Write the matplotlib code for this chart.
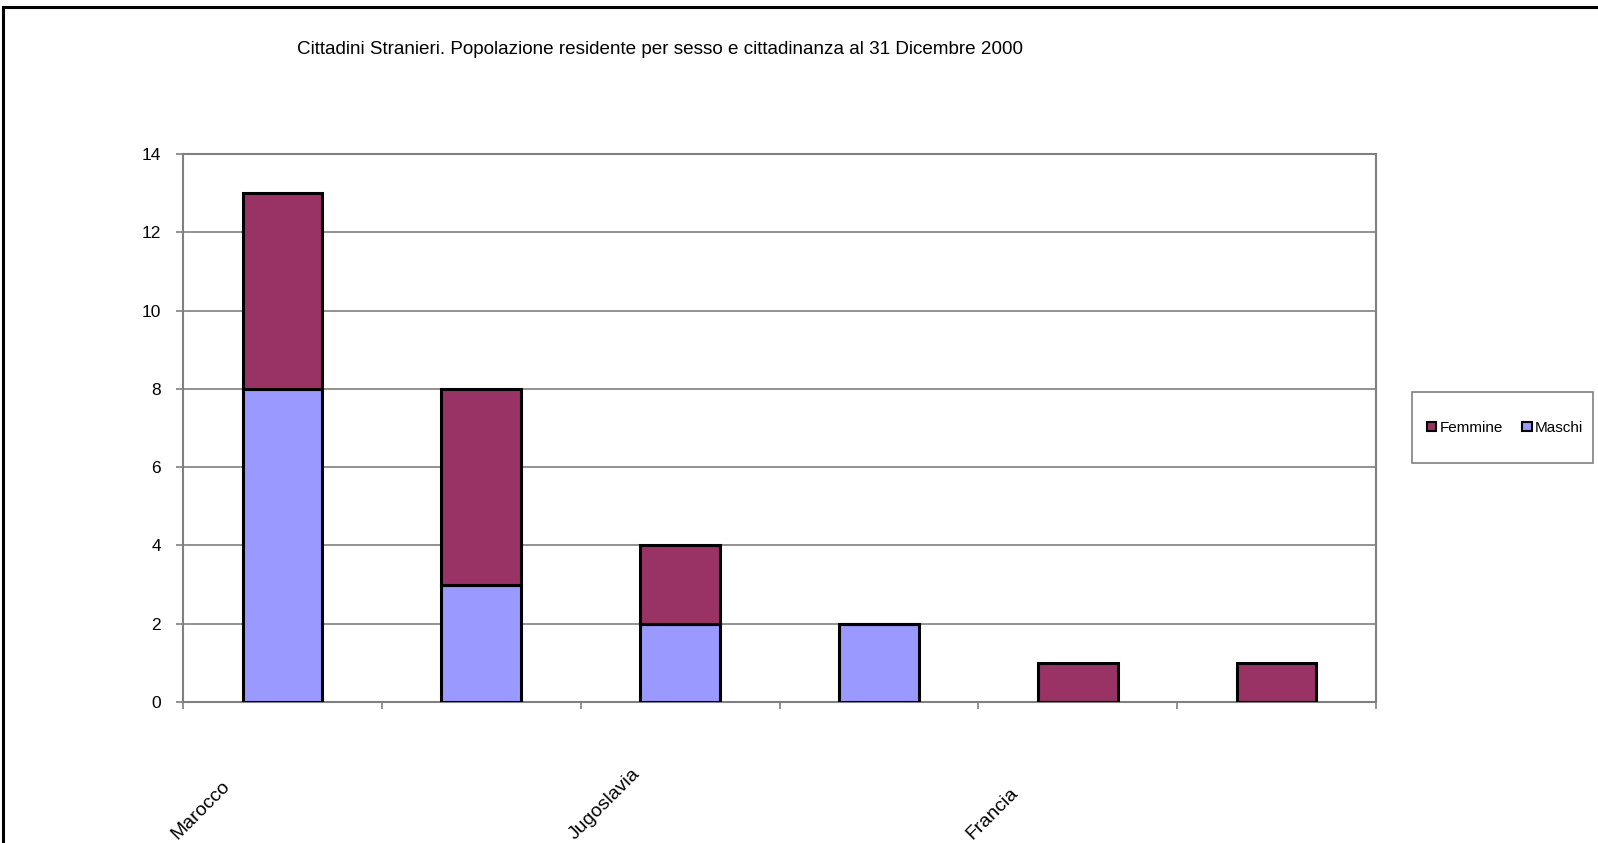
import matplotlib
matplotlib.use('Agg')
import matplotlib.pyplot as plt
import matplotlib.transforms as mtransforms
from matplotlib.patches import Rectangle, Patch
import numpy as np

plt.rcParams['font.family'] = ['Liberation Sans', 'DejaVu Sans']

# dati
paesi = ['Marocco', '', 'Jugoslavia', '', 'Francia', '']
maschi = [8, 3, 2, 2, 0, 0]
femmine = [5, 5, 2, 0, 1, 1]
titolo = 'Cittadini Stranieri. Popolazione residente per sesso e cittadinanza al 31 Dicembre 2000'

col_maschi = '#9999FF'
col_femmine = '#993366'
grigio = '#808080'

W, H = 1598, 843
fig = plt.figure(figsize=(W / 100, H / 100), dpi=100)
ax = fig.add_axes([183 / W, 1 - 702 / H, (1376 - 183) / W, (702 - 154) / H])

x = np.arange(len(paesi)) + 0.5
ax.bar(x, maschi, width=0.4, color=col_maschi, edgecolor='black', linewidth=2.2, zorder=3)
ax.bar(x, femmine, width=0.4, bottom=maschi, color=col_femmine, edgecolor='black', linewidth=2.2, zorder=3)

ax.set_xlim(0, len(paesi))
ax.set_ylim(0, 14)
ax.set_yticks(np.arange(0, 15, 2))
ax.set_xticks(np.arange(len(paesi) + 1))
ax.set_xticklabels([])
ax.yaxis.grid(True, color=grigio, linewidth=1.2, zorder=0)
for s in ax.spines.values():
    s.set_color(grigio)
    s.set_linewidth(1.5)
ax.tick_params(axis='both', color=grigio, length=5, width=1.2, labelsize=12.5)
ax.tick_params(axis='y', pad=11)

# etichette categorie: ruotate a 45 gradi, ancorate al bordo sinistro di ogni categoria
trans = mtransforms.blended_transform_factory(ax.transData, fig.transFigure)
for i, nome in enumerate(paesi):
    if nome:
        ax.text(i - 0.045, 1 - 837 / H, nome, rotation=45, rotation_mode='anchor',
                ha='left', va='center', fontsize=14, transform=trans, clip_on=False)

fig.text(660 / W, 1 - 49 / H, titolo, ha='center', va='center', fontsize=13.6)

# legenda
handles = [Patch(facecolor=col_femmine, edgecolor='black', linewidth=1.5, label='Femmine'),
           Patch(facecolor=col_maschi, edgecolor='black', linewidth=1.5, label='Maschi')]
fig.legend(handles=handles, loc='center', bbox_to_anchor=(1505 / W, 1 - 428 / H),
           ncol=2, fontsize=11, frameon=False, handlelength=0.6,
           handleheight=0.6, handletextpad=0.2, columnspacing=1.3, borderaxespad=0)
fig.patches.append(Rectangle((1412 / W, 1 - 463 / H), 181 / W, 71 / H, transform=fig.transFigure,
                             fill=False, edgecolor=grigio, linewidth=1.2))

# cornice del grafico
fig.patches.append(Rectangle((3 / W, -0.1), 1.2, 1 - 7 / H + 0.1, transform=fig.transFigure,
                             fill=False, edgecolor='black', linewidth=2.2))

fig.savefig('out.png', dpi=100)
